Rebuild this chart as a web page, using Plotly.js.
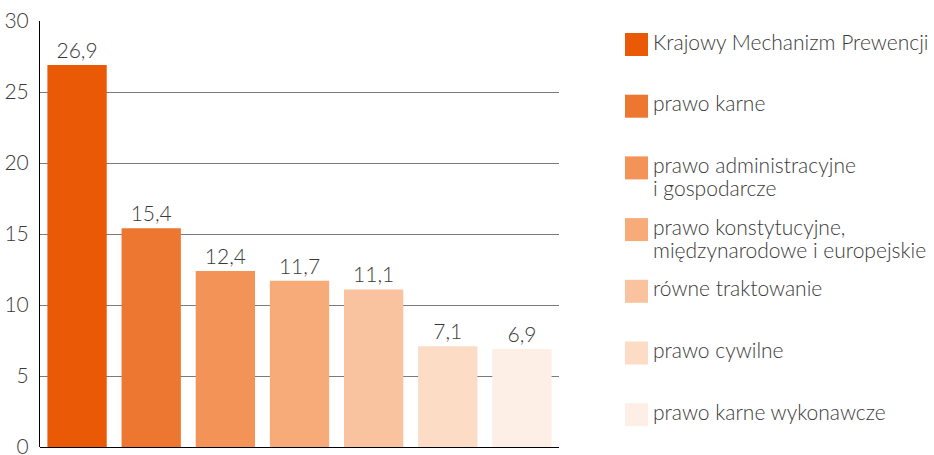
<!DOCTYPE html>
<html><head><meta charset="utf-8">
<script src="https://cdn.plot.ly/plotly-3.0.1.min.js"></script>
<style>body{margin:0;background:#fff}#chart{width:934px;height:455px}</style>
</head><body><div id="chart"></div>
<script>
const categories = ["Krajowy Mechanizm Prewencji","prawo karne","prawo administracyjne<br>i gospodarcze","prawo konstytucyjne,<br>międzynarodowe i europejskie","równe traktowanie","prawo cywilne","prawo karne wykonawcze"];
const values = [26.9, 15.4, 12.4, 11.7, 11.1, 7.1, 6.9];
const colors = ["#EA5906","#ED7631","#F39358","#F6AB79","#FAC39F","#FCDCC5","#FDEFE6"];
const yTicks = [0,5,10,15,20,25,30];

const W=934,H=455,L=40,R=375,T=21,B=8;
const pw=W-L-R, ph=H-T-B;
const px=x=>(x-L)/pw, py=y=>(H-B-y)/ph;
const font={family:"Lato, 'Open Sans', sans-serif", size:21, color:"#3a3a3a", weight:300};

const shapes=[], annotations=[];
categories.forEach((c,i)=>{
  const top=33+i*61.7;
  shapes.push({type:"rect",xref:"paper",yref:"paper",x0:px(625),x1:px(648),y0:py(top),y1:py(top+23),fillcolor:colors[i],line:{width:0}});
  c.split("<br>").forEach((line,j)=>{
    annotations.push({xref:"paper",yref:"paper",x:px(651),y:py(top+8+j*23),xanchor:"left",yanchor:"middle",align:"left",showarrow:false,text:line,font:font});
  });
});

Plotly.newPlot("chart",[{
  type:"bar", x:categories.map((c,i)=>i), y:values, marker:{color:colors},
  width:0.8, texttemplate:"%{y:.1f}", textposition:"outside", cliponaxis:false,
  textfont:font, hoverinfo:"none"
}],{
  width:W,height:H,margin:{l:L,r:R,t:T,b:B},
  separators:",.", showlegend:false, font:font,
  paper_bgcolor:"#fff", plot_bgcolor:"#fff",
  xaxis:{range:[-0.5,6.5],showticklabels:false,showgrid:false,zeroline:false,ticks:"",showline:false},
  yaxis:{range:[0,30],tickvals:yTicks,showgrid:true,gridcolor:"#7a7a7a",gridwidth:1,
    zeroline:true,zerolinecolor:"#000",zerolinewidth:1,showline:true,linecolor:"#000",linewidth:1,
    ticks:"",ticklabelstandoff:6,ticklabeloverflow:"allow",tickfont:font,fixedrange:true},
  shapes:shapes, annotations:annotations
},{staticPlot:true});
</script></body></html>
